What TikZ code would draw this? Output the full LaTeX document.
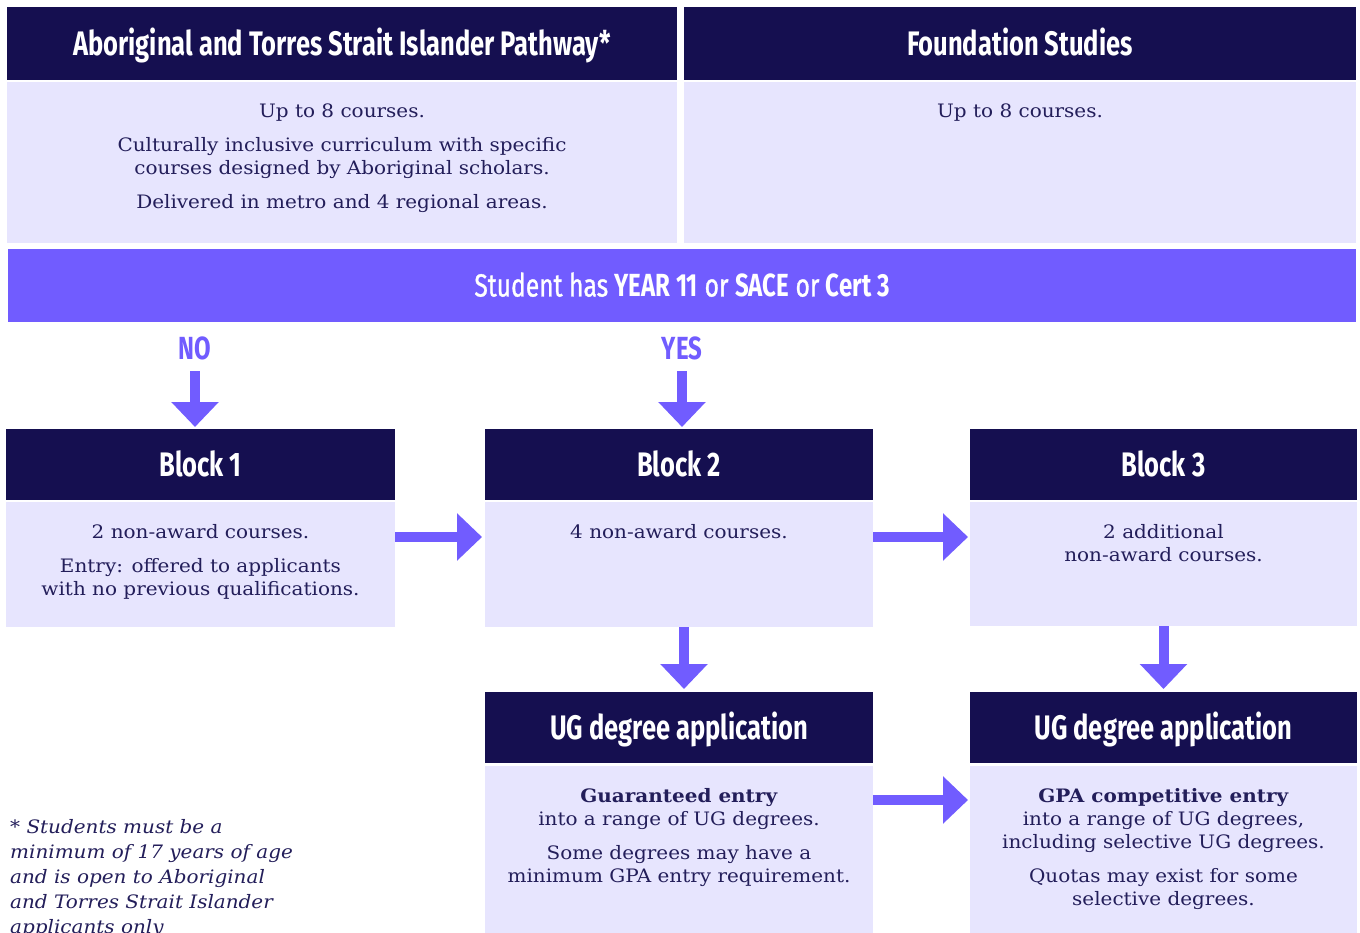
\documentclass[tikz,border=0pt]{standalone}
\usepackage{fontspec}
\setmainfont{DejaVu Serif}[FakeStretch=1.08]
\newfontfamily\headfont[FakeStretch=0.75]{Fira Sans}
\newfontfamily\barfont[FakeStretch=0.77, FakeBold=1]{Fira Sans}
\usepackage{tikz}
\usetikzlibrary{positioning, arrows.meta}

\definecolor{uninavy}{HTML}{150F50}
\definecolor{unililac}{HTML}{E7E5FE}
\definecolor{unipurple}{HTML}{715CFF}
\definecolor{uniink}{HTML}{231E5A}

\tikzset{
  headbox/.style={fill=uninavy, text=white, inner sep=0pt, outer sep=0pt, anchor=north west,
    font=\headfont\bfseries\fontsize{34}{34}\selectfont, text height=24pt, text depth=0pt},
  bodybox/.style={fill=unililac, inner sep=0pt, outer sep=0pt},
  bodytext/.style={text=uniink, font=\fontsize{18.5}{23}\selectfont, align=center, anchor=north, inner sep=0pt},
  answer/.style={text=unipurple, inner sep=0pt, anchor=south,
    font=\headfont\bfseries\fontsize{32}{32}\selectfont, text depth=0pt},
  bigarrow/.style={draw=unipurple, line width=10pt, -{Triangle[length=25pt, width=46pt]}},
}

\begin{document}
\begin{tikzpicture}[x=1pt, y=1pt]
\fill[white] (0,0) rectangle (1360,-933);
\useasboundingbox (0,0) rectangle (1360,-933);

% Two pathways on top
\node[headbox, minimum width=670pt, minimum height=73pt] (tlhead) at (7,-7)
  {Aboriginal and Torres Strait Islander Pathway*};
\node[bodybox, minimum width=670pt, minimum height=161pt, below=2pt of tlhead.south west, anchor=north west] (tlbody) {};
\node[bodytext] (tltext) at ([yshift=-22pt]tlbody.north)
  {Up to 8 courses.\\[11pt]
   Culturally inclusive curriculum with specific\\
   courses designed by Aboriginal scholars.\\[11pt]
   Delivered in metro and 4 regional areas.};

\node[headbox, minimum width=672pt, minimum height=73pt] (trhead) at (684,-7) {Foundation Studies};
\node[bodybox, minimum width=672pt, minimum height=161pt, below=2pt of trhead.south west, anchor=north west] (trbody) {};
\node[bodytext] (trtext) at ([yshift=-22pt]trbody.north) {Up to 8 courses.};

% Question bar
\node[fill=unipurple, text=white, inner sep=0pt, outer sep=0pt, anchor=north west,
  minimum width=1348pt, minimum height=73pt, text height=22pt, text depth=0pt,
  font=\barfont\fontsize{32}{32}\selectfont] (question) at (8,-249)
  {Student has {\headfont\bfseries YEAR 11} or {\headfont\bfseries SACE} or {\headfont\bfseries Cert 3}};

\node[answer] (no) at (195,-360) {NO};
\node[answer] (yes) at (682,-360) {YES};

% Blocks
\node[headbox, minimum width=389pt, minimum height=71pt] (b1head) at (6,-429) {Block 1};
\node[bodybox, minimum width=389pt, minimum height=125pt, below=2pt of b1head.south west, anchor=north west] (b1body) {};
\node[bodytext] (b1text) at ([yshift=-22pt]b1body.north)
  {2 non-award courses.\\[11pt]
   Entry: offered to applicants\\
   with no previous qualifications.};

\node[headbox, minimum width=388pt, minimum height=71pt] (b2head) at (485,-429) {Block 2};
\node[bodybox, minimum width=388pt, minimum height=125pt, below=2pt of b2head.south west, anchor=north west] (b2body) {};
\node[bodytext] (b2text) at ([yshift=-22pt]b2body.north) {4 non-award courses.};

\node[headbox, minimum width=387pt, minimum height=71pt] (b3head) at (970,-429) {Block 3};
\node[bodybox, minimum width=387pt, minimum height=124pt, below=2pt of b3head.south west, anchor=north west] (b3body) {};
\node[bodytext] (b3text) at ([yshift=-22pt]b3body.north)
  {2 additional\\non-award courses.};

% UG applications
\node[headbox, minimum width=388pt, minimum height=71pt] (ug1head) at (485,-692) {UG degree application};
\node[bodybox, minimum width=388pt, minimum height=168pt, below=3pt of ug1head.south west, anchor=north west] (ug1body) {};
\node[bodytext] (ug1text) at ([yshift=-22pt]ug1body.north)
  {\textbf{Guaranteed entry}\\
   into a range of UG degrees.\\[11pt]
   Some degrees may have a\\
   minimum GPA entry requirement.};

\node[headbox, minimum width=387pt, minimum height=71pt] (ug2head) at (970,-692) {UG degree application};
\node[bodybox, minimum width=387pt, minimum height=168pt, below=3pt of ug2head.south west, anchor=north west] (ug2body) {};
\node[bodytext] (ug2text) at ([yshift=-22pt]ug2body.north)
  {\textbf{GPA competitive entry}\\
   into a range of UG degrees,\\
   including selective UG degrees.\\[11pt]
   Quotas may exist for some\\
   selective degrees.};

% Footnote
\node[text=uniink, inner sep=0pt, anchor=north west, align=left,
  font=\itshape\fontsize{18.5}{25}\selectfont] (note) at (10,-819)
  {* Students must be a\\
   minimum of 17 years of age\\
   and is open to Aboriginal\\
   and Torres Strait Islander\\
   applicants only};

% Arrows
\draw[bigarrow, shorten >=2pt] ([yshift=-11pt]no.south) -- (b1head.north -| no.south);
\draw[bigarrow, shorten >=2pt] ([yshift=-11pt]yes.south) -- (b2head.north -| yes.south);
\draw[bigarrow, shorten >=3pt] ([yshift=-35pt]b1body.north east) -- ([yshift=-35pt]b2body.north west);
\draw[bigarrow, shorten >=2pt] ([yshift=-35pt]b2body.north east) -- ([yshift=-35pt]b3body.north west);
\draw[bigarrow, shorten >=3pt] ([xshift=5pt]b2body.south) -- ([xshift=5pt]ug1head.north);
\draw[bigarrow, shorten >=3pt] (b3body.south) -- (ug2head.north);
\draw[bigarrow, shorten >=2pt] ([yshift=-34pt]ug1body.north east) -- ([yshift=-34pt]ug2body.north west);
\end{tikzpicture}
\end{document}
